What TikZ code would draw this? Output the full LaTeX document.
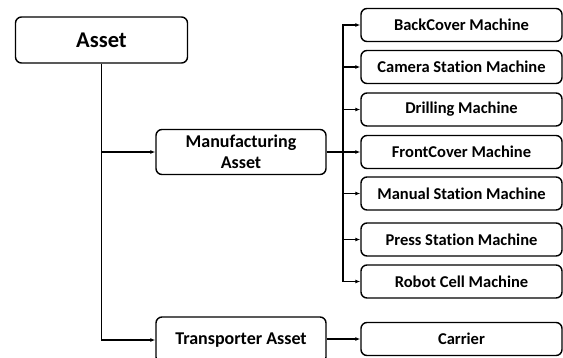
\documentclass[tikz,border=0pt]{standalone}
\usepackage{fontspec}
\setmainfont{Carlito}[Ligatures=NoCommon]
\usetikzlibrary{arrows.meta}

\tikzset{
  box/.style={draw, line width=1.4pt, rounded corners=6pt, align=center,
    font=\bfseries\fontsize{16.5}{19}\selectfont, inner sep=0pt},
  topbox/.style={box, minimum width=172pt, minimum height=46pt,
    font=\bfseries\fontsize{22.5}{26}\selectfont},
  midbox/.style={box, minimum width=170pt, minimum height=45pt,
    font=\bfseries\fontsize{18}{21}\selectfont},
  machbox/.style={box, minimum width=201pt, minimum height=33pt},
  link/.style={line width=1.4pt, -{Latex[length=5pt,width=4pt]}},
}

\begin{document}
\begin{tikzpicture}[x=1pt, y=-1pt]
\useasboundingbox (0,0) rectangle (563,357);

% root
\node[topbox] (asset) at (101.5,40) {Asset};

% second level
\node[midbox] (manu) at (241,152) {Manufacturing\\Asset};
\node[midbox, minimum height=46pt] (trans) at (241,340) {Transporter Asset};

% machines
\node[machbox] (m1) at (461.5,25)    {BackCover Machine};
\node[machbox] (m2) at (461.5,67)    {Camera Station Machine};
\node[machbox] (m3) at (461.5,109.5) {Drilling Machine};
\node[machbox] (m4) at (461.5,152)   {FrontCover Machine};
\node[machbox] (m5) at (461.5,193.5) {Manual Station Machine};
\node[machbox] (m6) at (461.5,239.5) {Press Station Machine};
\node[machbox] (m7) at (461.5,281.5) {Robot Cell Machine};
\node[machbox] (carrier) at (461.5,339) {Carrier};

% tree connectors
\draw[link] (asset.south) |- (manu.west);
\draw[link] (asset.south) |- (trans.west);

\coordinate (bus) at (343,152);
\draw[line width=1.4pt] (manu.east) -- (bus);
\foreach \m in {m1,m2,m3,m4,m5,m6,m7}
  \draw[link] (bus) |- (\m.west);

\draw[link] (trans.east |- carrier.west) -- (carrier.west);
\end{tikzpicture}
\end{document}
